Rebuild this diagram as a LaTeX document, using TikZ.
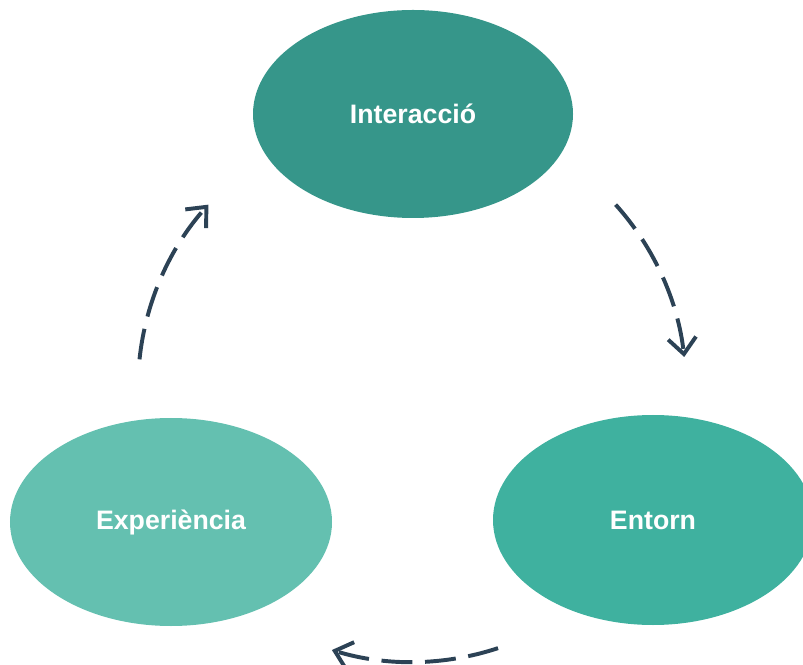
\documentclass[tikz,border=0pt]{standalone}
\usepackage{fontspec}
\setmainfont{Liberation Sans}
\usetikzlibrary{arrows.meta, shapes.geometric}

\definecolor{topgreen}{HTML}{36968A}
\definecolor{rightgreen}{HTML}{3FB19F}
\definecolor{leftgreen}{HTML}{64C0B0}
\definecolor{flowline}{HTML}{2C4255}

\begin{document}
\begin{tikzpicture}[
    stage/.style={ellipse, draw=none, inner sep=0pt, minimum width=8cm, minimum height=5.2cm,
        text=white, font=\fontsize{19}{23}\selectfont\bfseries},
    flow/.style={draw=flowline, line width=2.8pt, dash pattern=on 22pt off 9pt,
        -{Straight Barb[length=4mm, width=7mm, line width=2.8pt]}}
    ]
    \useasboundingbox (0,0) rectangle (20.075,16.6);

    % Nodes
    \node[stage, fill=topgreen] at (10.325, 13.75) (int) {Interacció};
    \node[stage, fill=rightgreen, minimum height=5.25cm] at (16.325, 3.6) (ent) {Entorn};
    \node[stage, fill=leftgreen, minimum width=8.05cm] at (4.275, 3.55) (exp) {Experiència};

    % Edges
    \coordinate (o) at (10.3, 6.9);
    \coordinate (a1) at ([shift={(174:6.85)}]o);
    \coordinate (b1) at ([shift={(42:6.85)}]o);
    \coordinate (c1) at ([shift={(-71.7:6.85)}]o);

    \draw[flow] (a1) arc[start angle=174, end angle=138, radius=6.85];

    \draw[flow] (b1) arc[start angle=42, end angle=6.5, radius=6.85];

    \draw[flow] (c1) arc[start angle=-71.7, end angle=-107, radius=6.85];
\end{tikzpicture}
\end{document}
